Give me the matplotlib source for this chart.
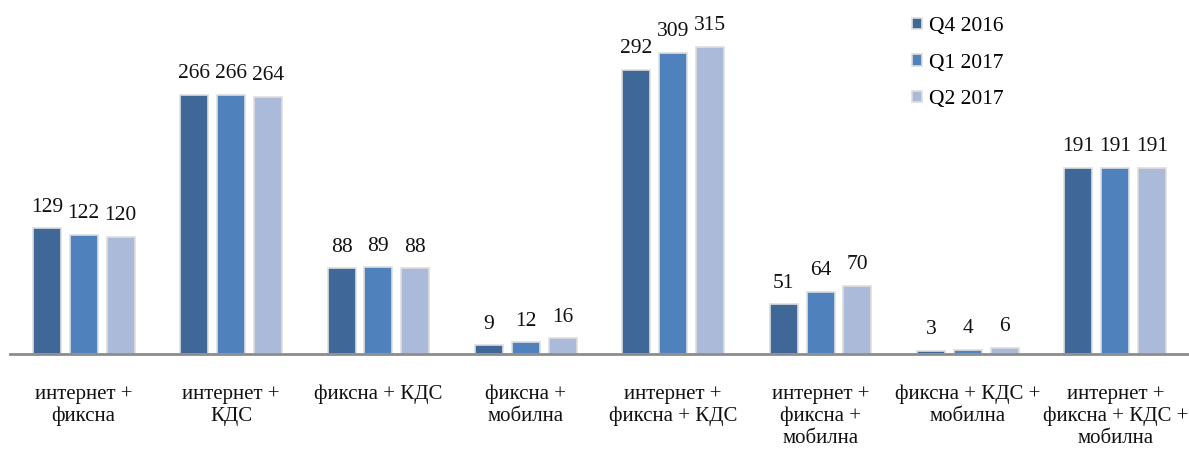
import matplotlib
matplotlib.use('Agg')
import matplotlib.pyplot as plt
import numpy as np

categories = ["интернет +\nфиксна", "интернет +\nКДС", "фиксна + КДС", "фиксна +\nмобилна",
              "интернет +\nфиксна + КДС", "интернет +\nфиксна +\nмобилна",
              "фиксна + КДС +\nмобилна", "интернет +\nфиксна + КДС +\nмобилна"]
series_names = ["Q4 2016", "Q1 2017", "Q2 2017"]
q4_2016 = [129, 266, 88, 9, 292, 51, 3, 191]
q1_2017 = [122, 266, 89, 12, 309, 64, 4, 191]
q2_2017 = [120, 264, 88, 16, 315, 70, 6, 191]
colors = ["#3F6899", "#4F81BD", "#AABAD8"]

plt.rcParams['font.family'] = ['Liberation Serif', 'DejaVu Serif']

fig = plt.figure(figsize=(11.89, 4.5), dpi=100)
ax = fig.add_axes([10 / 1189, 96 / 450, 1 - 10 / 1189, (354 - 13) / 450])

x = np.arange(len(categories))
width = 0.19
offset = 0.25
for i, (vals, name) in enumerate(zip([q4_2016, q1_2017, q2_2017], series_names)):
    bars = ax.bar(x + (i - 1) * offset, vals, width, color=colors[i], label=name,
                  edgecolor="#dedede", linewidth=1.2)
    for b, v in zip(bars, vals):
        ax.annotate(str(v), (b.get_x() + b.get_width() / 2, v), xytext=(0, 12),
                    textcoords="offset points", ha="center", va="baseline",
                    fontsize=15.5, color="#111111")

ax.set_xlim(-0.5, len(categories) - 0.5)
ax.set_ylim(0, 350)
ax.set_yticks([])
ax.set_xticks(x)
ax.set_xticklabels(categories, fontsize=15, color="#111111", linespacing=1.22)
ax.tick_params(axis="x", length=0, pad=22)
for s in ["top", "right", "left"]:
    ax.spines[s].set_visible(False)
ax.spines["bottom"].set_color("#8c8c8c")
ax.spines["bottom"].set_linewidth(2)

leg = ax.legend(loc="upper left", bbox_to_anchor=(912 / 1189, 1 - 17 / 450),
                bbox_transform=fig.transFigure, frameon=False, fontsize=15.5,
                borderaxespad=0, borderpad=0,
                handlelength=0.45, handleheight=0.45, handletextpad=0.35, labelspacing=0.82)

fig.savefig("out.png", dpi=100)
